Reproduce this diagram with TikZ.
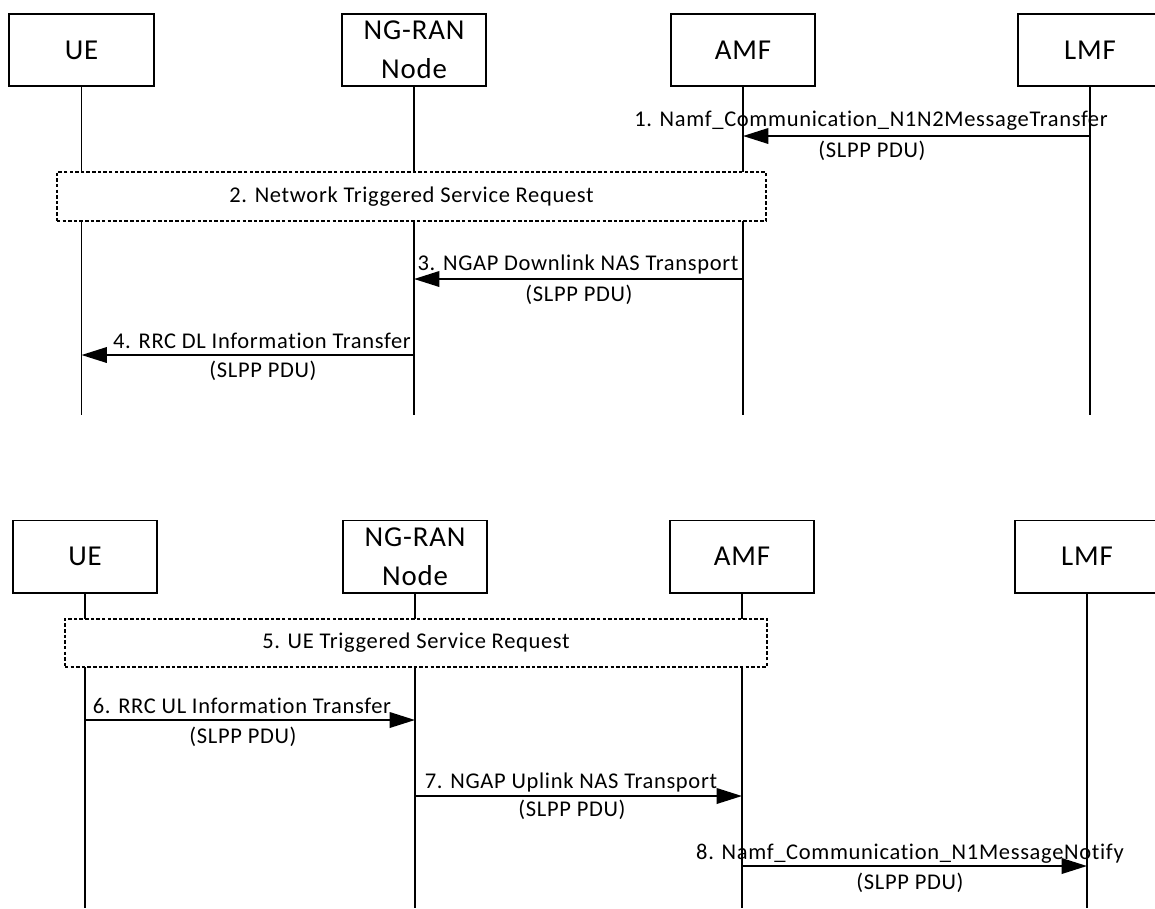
\documentclass[tikz,border=0pt]{standalone}
\usepackage{fontspec}
\setmainfont{Carlito}[LetterSpace=3,Ligatures=NoCommon]
\usetikzlibrary{arrows.meta}

\begin{document}
\begin{tikzpicture}[x=0.025cm,y=-0.025cm,
  entity/.style={draw,line width=1.4pt,fill=white,minimum width=3.6cm,minimum height=1.8cm,align=center,inner sep=0pt,font=\fontsize{20.5}{28}\selectfont},
  life/.style={line width=1pt},
  msg/.style={line width=1.4pt,-{Triangle[length=18pt,width=11pt]}},
  msgtext/.style={inner sep=0pt,font=\fontsize{16}{19}\selectfont},
  proc/.style={draw,fill=white,line width=1pt,dash pattern=on 2.5pt off 1.5pt,inner sep=0pt,font=\fontsize{16}{19}\selectfont}]
\useasboundingbox (0,0) rectangle (1155,908);

\node[entity] (ue1) at (81.5,50) {UE};
\node[entity] (ran1) at (414,50) {NG-RAN\\Node};
\node[entity] (amf1) at (743,50) {AMF};
\node[entity] (lmf1) at (1090,50) {LMF};

\coordinate (ue1e) at (ue1.south |- 0,415);
\coordinate (ran1e) at (ran1.south |- 0,415);
\coordinate (amf1e) at (amf1.south |- 0,415);
\coordinate (lmf1e) at (lmf1.south |- 0,415);
\draw[life] (ue1) -- (ue1e);
\draw[life] (ran1) -- (ran1e);
\draw[life] (amf1) -- (amf1e);
\draw[life] (lmf1) -- (lmf1e);

\coordinate (m1a) at (lmf1 |- 0,136);
\coordinate (m1b) at (amf1 |- 0,136);
\draw[msg] (m1a) -- (m1b);
\node[msgtext] (l1) at (871,121) {1. Namf\_Communication\_N1N2MessageTransfer};
\node[msgtext] (p1) at (872,151) {(SLPP PDU)};

\node[proc,minimum width=17.725cm,minimum height=1.225cm] (sr2) at (411.5,196.5) {2. Network Triggered Service Request};

\coordinate (m3a) at (amf1 |- 0,279);
\coordinate (m3b) at (ran1 |- 0,279);
\draw[msg] (m3a) -- (m3b);
\node[msgtext] (l3) at (578,264) {3. NGAP Downlink NAS Transport};
\node[msgtext] (p3) at (579,295) {(SLPP PDU)};

\coordinate (m4a) at (ran1 |- 0,355);
\coordinate (m4b) at (ue1 |- 0,355);
\draw[msg] (m4a) -- (m4b);
\node[msgtext] (l4) at (262,341) {4. RRC DL Information Transfer};
\node[msgtext] (p4) at (263,371) {(SLPP PDU)};

\node[entity] (ue2) at (85,556.5) {UE};
\node[entity] (ran2) at (415,556.5) {NG-RAN\\Node};
\node[entity] (amf2) at (742,556.5) {AMF};
\node[entity] (lmf2) at (1087,556.5) {LMF};

\coordinate (ue2e) at (ue2.south |- 0,908);
\coordinate (ran2e) at (ran2.south |- 0,908);
\coordinate (amf2e) at (amf2.south |- 0,908);
\coordinate (lmf2e) at (lmf2.south |- 0,908);
\draw[life] (ue2) -- (ue2e);
\draw[life] (ran2) -- (ran2e);
\draw[life] (amf2) -- (amf2e);
\draw[life] (lmf2) -- (lmf2e);

\node[proc,minimum width=17.55cm,minimum height=1.2cm] (sr5) at (416,643) {5. UE Triggered Service Request};

\coordinate (m6a) at (ue2 |- 0,720);
\coordinate (m6b) at (ran2 |- 0,720);
\draw[msg] (m6a) -- (m6b);
\node[msgtext] (l6) at (242,706) {6. RRC UL Information Transfer};
\node[msgtext] (p6) at (243,737) {(SLPP PDU)};

\coordinate (m7a) at (ran2 |- 0,796);
\coordinate (m7b) at (amf2 |- 0,796);
\draw[msg] (m7a) -- (m7b);
\node[msgtext] (l7) at (571,782) {7. NGAP Uplink NAS Transport};
\node[msgtext] (p7) at (572,810) {(SLPP PDU)};

\coordinate (m8a) at (amf2 |- 0,866);
\coordinate (m8b) at (lmf2 |- 0,866);
\draw[msg] (m8a) -- (m8b);
\node[msgtext] (l8) at (910,854) {8. Namf\_Communication\_N1MessageNotify};
\node[msgtext] (p8) at (910,883) {(SLPP PDU)};

\end{tikzpicture}
\end{document}
